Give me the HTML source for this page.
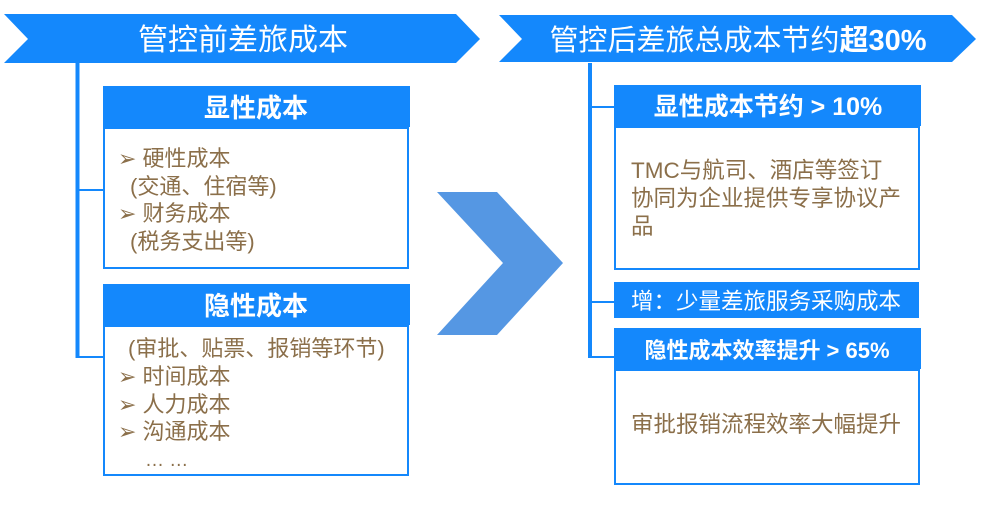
<!DOCTYPE html>
<html><head><meta charset="utf-8"><style>
body{margin:0;width:985px;height:504px;background:#fff;overflow:hidden;font-family:"Liberation Sans","Noto Sans CJK SC",sans-serif}
</style></head><body>
<svg width="985" height="504" xmlns="http://www.w3.org/2000/svg" style="font-family:'Liberation Sans','Noto Sans CJK SC',sans-serif">
<polygon points="4,14 456,14 480,39 456,63 4,63 28,39" fill="#1488fc"/>
<text x="243" y="50" font-size="30" fill="#fff" text-anchor="middle">管控前差旅成本</text>
<polygon points="499,15 952,15 976,39 952,62 499,62 522,39" fill="#1488fc"/>
<text x="738" y="50" font-size="29" fill="#fff" text-anchor="middle">管控后差旅总成本节约<tspan font-weight="bold">超30%</tspan></text>

<line x1="77.5" y1="63" x2="77.5" y2="358" stroke="#1488fc" stroke-width="4"/>
<line x1="77" y1="190" x2="104" y2="190" stroke="#1488fc" stroke-width="2"/>
<line x1="77" y1="357" x2="104" y2="357" stroke="#1488fc" stroke-width="2"/>

<rect x="104" y="128" width="304" height="140" fill="#fff" stroke="#1488fc" stroke-width="2"/>
<rect x="103" y="86" width="307" height="41" fill="#1488fc"/>
<text x="256" y="117" font-size="26" font-weight="bold" fill="#fff" text-anchor="middle">显性成本</text>
<g font-size="22" fill="#8b6f4a">
<text x="118" y="166"><tspan font-size="22">➢</tspan> 硬性成本</text>
<text x="130" y="194">(交通、住宿等)</text>
<text x="118" y="221"><tspan font-size="22">➢</tspan> 财务成本</text>
<text x="130" y="249">(税务支出等)</text>
</g>

<rect x="104" y="326" width="304" height="149" fill="#fff" stroke="#1488fc" stroke-width="2"/>
<rect x="103" y="284" width="307" height="41" fill="#1488fc"/>
<text x="256" y="315" font-size="26" font-weight="bold" fill="#fff" text-anchor="middle">隐性成本</text>
<g font-size="22" fill="#8b6f4a">
<text x="128" y="356">(审批、贴票、报销等环节)</text>
<text x="118" y="384"><tspan font-size="22">➢</tspan> 时间成本</text>
<text x="118" y="412"><tspan font-size="22">➢</tspan> 人力成本</text>
<text x="118" y="439"><tspan font-size="22">➢</tspan> 沟通成本</text>
<text x="145" y="466" font-size="19">… …</text>
</g>

<polygon points="437,192 497,192 563,263 497,335 437,335 503,263" fill="#5597e3"/>

<line x1="590" y1="63" x2="590" y2="358" stroke="#1488fc" stroke-width="4"/>
<line x1="590" y1="107" x2="615" y2="107" stroke="#1488fc" stroke-width="2"/>
<line x1="590" y1="302" x2="615" y2="302" stroke="#1488fc" stroke-width="2"/>
<line x1="590" y1="357" x2="615" y2="357" stroke="#1488fc" stroke-width="2"/>

<rect x="615" y="127" width="304" height="142" fill="#fff" stroke="#1488fc" stroke-width="2"/>
<rect x="614" y="85" width="307" height="41" fill="#1488fc"/>
<text x="768" y="115" font-size="25" font-weight="bold" fill="#fff" text-anchor="middle">显性成本节约 &gt; 10%</text>
<g font-size="22.5" fill="#8b6f4a">
<text x="631" y="178">TMC与航司、酒店等签订</text>
<text x="631" y="206">协同为企业提供专享协议产</text>
<text x="631" y="234">品</text>
</g>

<rect x="614" y="282" width="305" height="36" fill="#1488fc"/>
<text x="766" y="309" font-size="22.5" fill="#fff" text-anchor="middle">增：少量差旅服务采购成本</text>

<rect x="615" y="370" width="304" height="114" fill="#fff" stroke="#1488fc" stroke-width="2"/>
<rect x="614" y="328" width="307" height="41" fill="#1488fc"/>
<text x="767" y="358" font-size="22" font-weight="bold" fill="#fff" text-anchor="middle">隐性成本效率提升 &gt; 65%</text>
<text x="631" y="432" font-size="22.5" fill="#8b6f4a">审批报销流程效率大幅提升</text>
</svg>
</body></html>
